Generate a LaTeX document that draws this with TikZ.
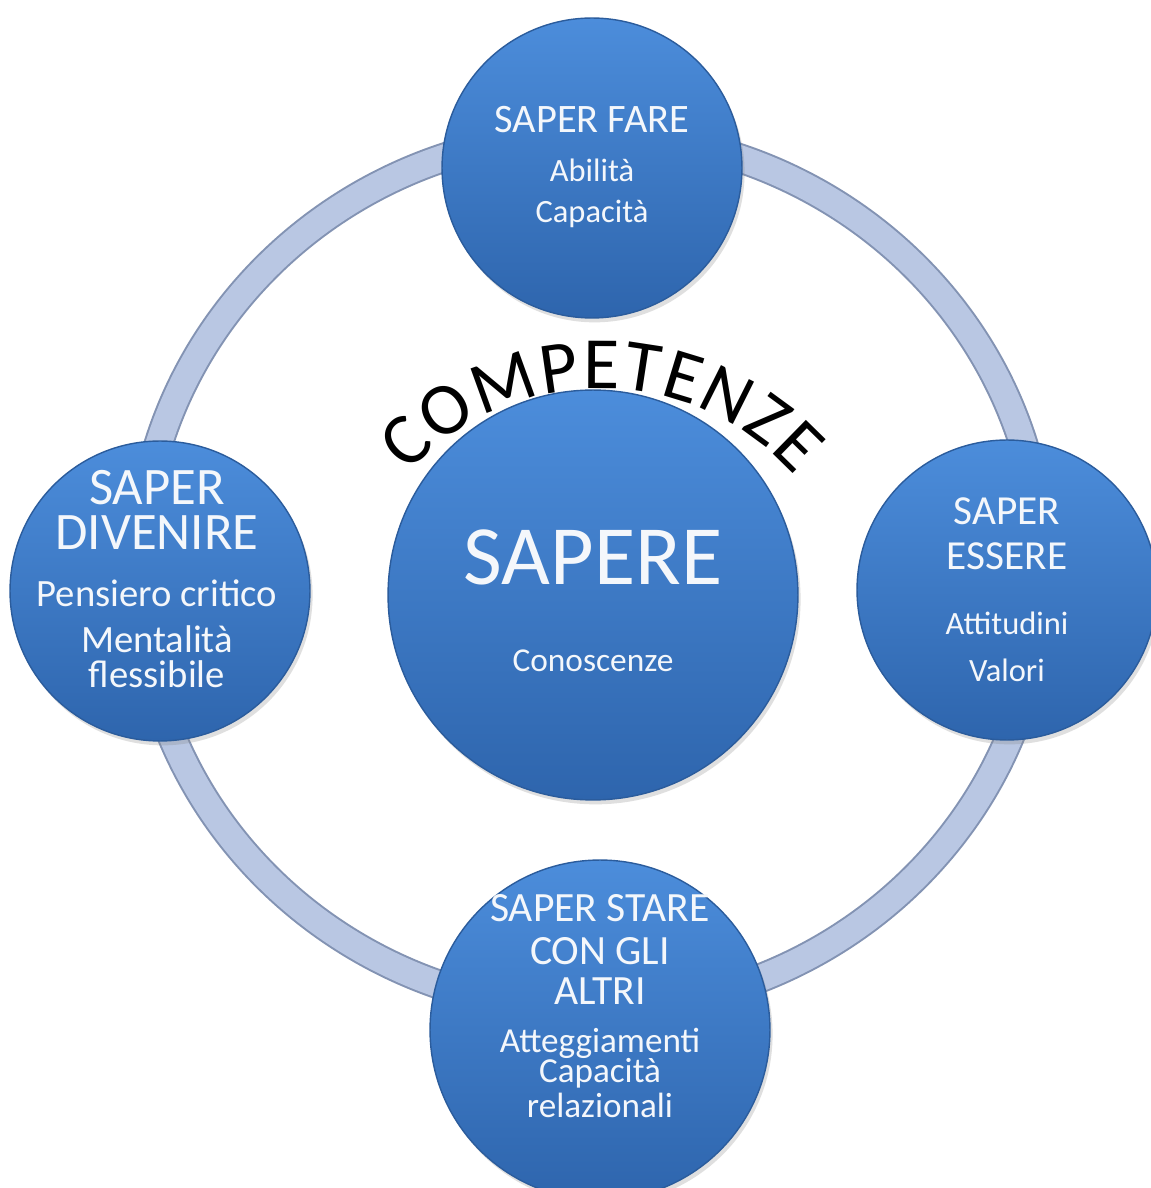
\documentclass[tikz,border=0pt]{standalone}
\usepackage{fontspec}
\setmainfont{Carlito}
\usetikzlibrary{shadows}
\definecolor{ballTop}{HTML}{4C8DDB}
\definecolor{ballBot}{HTML}{2E65AD}
\definecolor{ballRim}{HTML}{2B5C9C}
\definecolor{ringFill}{HTML}{B9C7E3}
\definecolor{ringRim}{HTML}{8393B3}
\definecolor{paleTxt}{HTML}{F4F7FB}
\tikzset{
  ball/.style={circle,draw=ballRim,line width=.8pt,top color=ballTop,
    bottom color=ballBot,inner sep=0pt,
    drop shadow={opacity=.25,shadow xshift=1.5pt,shadow yshift=-2.5pt}},
  lbl/.style={text=paleTxt,anchor=base,inner sep=0pt},
  arcch/.style={inner sep=0pt,font=\fontsize{42}{42}\selectfont},
}

\begin{document}
\begin{tikzpicture}[x=0.02cm,y=0.02cm]
  \fill[white] (0,0) rectangle (1151,1188);
  \useasboundingbox (0,0) rectangle (1151,1188);

  % ring behind the balls
  \draw[ringRim,line width=.6cm] (591,616) ellipse [x radius=452,y radius=438];
  \draw[ringFill,line width=.52cm] (591,616) ellipse [x radius=452,y radius=438];

  \node[ball,minimum size=6.0cm] (fare) at (592,1020) {};
  \node[ball,minimum size=6.0cm] (divenire) at (160,597) {};
  \node[ball,minimum size=6.0cm] (essere) at (1007,598) {};
  \node[ball,minimum size=6.8cm] (stare) at (600,158) {};
  \node[ball,minimum size=8.2cm] (sapere) at (593,593) {};

  \foreach \yy/\fs/\txt [count=\i] in
    {133/23/SAPER FARE,182/18.5/Abilità,223/18.5/Capacità}
    \node[lbl,font=\fontsize{\fs}{\fs}\selectfont] (fare-\i) at (592,1188-\yy) {\txt};
  \foreach \yy/\fs/\txt [count=\i] in
    {505/30/SAPER,550/30/DIVENIRE,607/22/Pensiero critico,
     653/22/Mentalità,688/22/flessibile}
    \node[lbl,font=\fontsize{\fs}{\fs}\selectfont] (divenire-\i) at (157,1188-\yy) {\txt};
  \foreach \yy/\fs/\txt [count=\i] in
    {525/23.5/SAPER,570/23.5/ESSERE,635/18.5/Attitudini,682/18.5/Valori}
    \node[lbl,font=\fontsize{\fs}{\fs}\selectfont] (essere-\i) at (1007,1188-\yy) {\txt};
  \foreach \yy/\fs/\txt [count=\i] in
    {585/48/SAPERE,672/19/Conoscenze}
    \node[lbl,font=\fontsize{\fs}{\fs}\selectfont] (sapere-\i) at (593,1188-\yy) {\txt};
  \foreach \yy/\fs/\txt [count=\i] in
    {922/23.7/SAPER STARE,965/23.7/CON GLI,1005/23.7/ALTRI,
     1053/20/Atteggiamenti,1083/20/Capacità,1117/20/relazionali}
    \node[lbl,font=\fontsize{\fs}{\fs}\selectfont] (stare-\i) at (600,1188-\yy) {\txt};

  % arched title, one letter at a time
  \foreach \ch/\a [count=\i] in {C/133.0,O/122.8,M/109.9,P/98.2,E/89.7,
      T/81.3,E/73.0,N/63.4,Z/53.8,E/45.6}
    \path (600,538) ++(\a:285) node[arcch,rotate=\a-90] (arc-\i) {\ch};
\end{tikzpicture}
\end{document}
